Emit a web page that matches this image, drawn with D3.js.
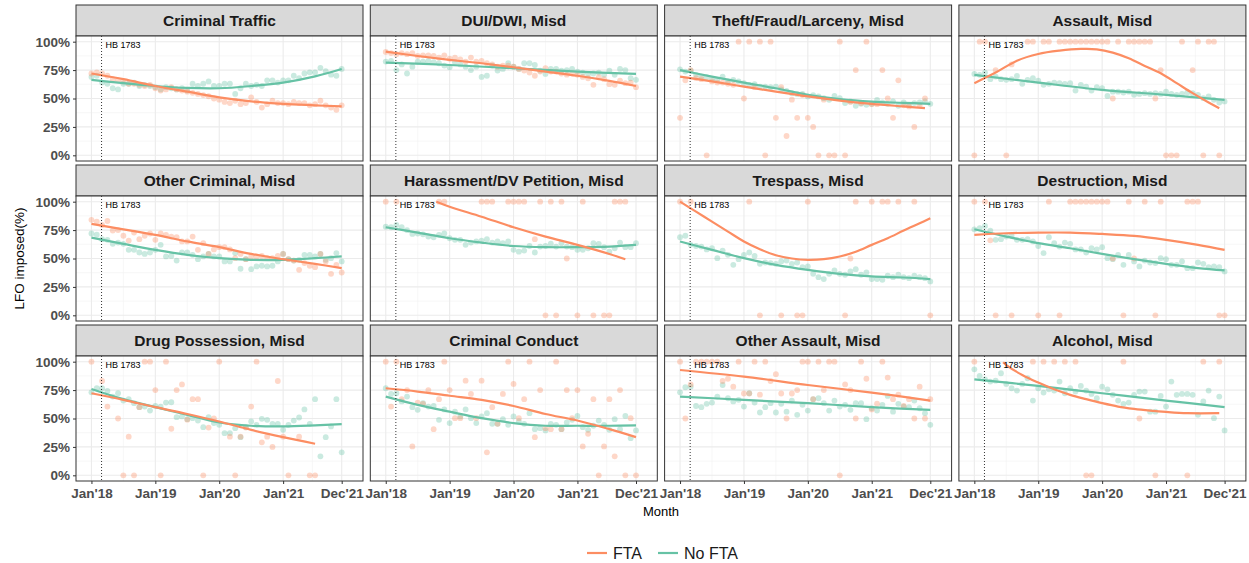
<!DOCTYPE html>
<html>
<head>
<meta charset="utf-8">
<script src="https://cdn.jsdelivr.net/npm/d3@7"></script>
<style>
  body { margin: 0; background: #fff; }
  svg { display: block; font-family: "Liberation Sans", Arial, sans-serif; }
</style>
</head>
<body>
<svg id="chart" width="1249" height="563"></svg>
<script>
// facet titles, in reading order
const titles = ["Criminal Traffic", "DUI/DWI, Misd", "Theft/Fraud/Larceny, Misd", "Assault, Misd",
    "Other Criminal, Misd", "Harassment/DV Petition, Misd", "Trespass, Misd", "Destruction, Misd",
    "Drug Possession, Misd", "Criminal Conduct", "Other Assault, Misd", "Alcohol, Misd"];

// x ticks (month index from Jan 2018) and their labels
const xTicks = [0, 12, 24, 36, 47];
const xTickLabels = ["Jan'18", "Jan'19", "Jan'20", "Jan'21", "Dec'21"];
const yTicks = [0, 25, 50, 75, 100];
const hbMonth = 1.9;   // HB 1783 marker
const seriesNames = ["FTA", "No FTA"];

// monthly LFO imposed (%), Jan'18 .. Dec'21, null = no cases that month
const ftaTraffic = [72,73,72,70,67,66,65,63,63,62,61,62,59,57,58,60,58,57,56,55,54,53,52,50,49,47,46,48,45,46,51,47,42,45,48,46,46,45,47,46,46,44,45,48,44,42,40,44];
const noFtaTraffic = [69,70,64,63,59,58,63,63,64,61,62,61,60,58,60,59,58,59,57,63,61,63,65,61,61,63,63,54,59,63,61,62,61,66,66,64,66,66,70,68,72,73,73,77,74,71,70,76];

const ftaDui = [91,90,89,90,89,90,87.5,88,88,87.5,86,88,85,86,84.5,82.5,86,82.5,83,81,80,78,79,79,78,76,74.6,72.8,70,73.7,76.6,73.7,73.7,72,71,72,70.8,69,67.8,62,68.7,67,62.6,62,65.8,63.5,64,60];
const noFtaDui = [82.5,83,75,80,72,78,82.5,82.5,83,82,81,79,77.5,82,80,78,75,78,69,70,79,74.6,76,81,78,76,81,81,79.5,74.6,71.6,76,76,74.6,75,76,73.7,72.8,71.6,72,72.8,70.8,74.6,70.8,76,75,67.8,66.4];

const ftaTheft = [33,66,75,68,67,0,65,64,64,63,62,100,50,100,60,100,0,100,33,60,17,49,33,53,33,25,0,49,0,0,100,0,47,75,46,100,45,45,75,50,33,66,44,43,25,44,50,null];
const noFtaTheft = [75.7,73.7,74.6,70.8,69.3,68.7,67,66.4,69.3,65,66.4,65,63.5,62,62.6,60.5,60.5,60,60.5,58,56.7,54.7,54,54,51.8,53,51.8,50.3,48.8,52.3,50.3,46,47.4,43.6,45.3,44.4,45.3,48.8,46.5,45.3,47.4,43.6,46.5,44.4,46,46.5,47.4,45.3];

const ftaAssault = [0,100,100,null,75,null,0,80,null,null,100,100,null,100,100,null,100,100,100,100,100,100,100,100,100,100,50,100,null,100,100,100,100,100,50,75,0,0,0,100,null,75,100,0,100,100,0,null];
const noFtaAssault = [71.6,70.8,72.8,67,69.3,67,66.4,67,69.9,62.9,66.4,67.8,65.8,62,62.9,64,63.5,62.9,63.5,57,62,60.5,57,60,59,52.3,56,56,55.3,56,53.2,54,54.7,54,54.7,54,56,54,53.2,54,55.3,54.7,53.2,50.3,51.8,48.8,46.5,47.4];

const ftaOtherCrim = [84,82.5,79.5,83,74.6,75,70,65.8,72.8,67,70,72,66.4,72,70.8,69.3,68.7,65,65,69.3,57.6,63.5,54,58,60,60,58,50.3,54,49.4,51.8,51.8,52.3,50.3,50.3,52.3,54,49.4,48.2,40,46,43.6,42.4,54,47.4,36.5,44.4,37.7];
const noFtaOtherCrim = [72,71,67,66.4,62.9,64,62.9,57.6,57.6,55.3,54,55.3,57.6,62,51.8,52.3,48.2,55.3,55.3,53.2,49.4,51.8,54,51.8,51.8,47.4,47.4,54.7,41,49.4,40.6,43,43.6,43,43.6,47.4,54,49.4,48.2,48.8,53.2,53.2,51.8,54,48.8,50.3,54.7,47.4];

const ftaHarass = [100,null,100,null,null,null,null,null,null,null,100,100,null,null,null,null,null,null,100,100,100,null,null,100,100,100,100,null,67,100,0,100,0,100,50,null,0,100,null,0,null,0,0,100,100,100,null,null];
const noFtaHarass = [78,77.5,79.5,77.5,75,71.6,72,71.3,69.3,68.7,70.8,72,67.8,66.4,66.4,62,64,65,65.8,67,64,65,63.5,65,57.6,56,57,61,55.3,60.5,61,63,60.5,63.5,60.5,60,57.6,57.6,59,63.5,62.9,60,56,59,64,60,60,63.5];

const ftaTrespass = [100,null,100,null,null,null,null,null,null,null,null,null,null,100,null,0,null,null,null,0,null,null,0,0,100,null,null,null,null,null,null,0,50,100,null,null,100,null,100,100,null,100,null,null,100,null,null,0];
const noFtaTrespass = [68.7,70,62,61,60.5,58,59,50.3,57,53.2,44.4,49.4,53.2,55.3,52.3,45.3,46.5,46,45.3,47.4,48.2,45.3,46.5,42.4,43,36.5,33.6,31.9,36.5,39.5,36.5,35.7,38.6,40.6,35.7,37.7,31.9,31.9,31.3,34.8,33.6,35.7,33.6,32.7,34.8,33.6,32.7,29.8];

const ftaDestruct = [100,null,100,66,0,null,null,0,null,null,null,null,0,null,100,null,0,null,100,100,100,100,100,100,100,100,50,null,0,100,50,null,100,null,0,100,null,null,null,null,100,100,100,null,null,null,0,0];
const noFtaDestruct = [75.7,76.6,78.7,74.6,66.4,67,69.3,70,66.4,66.4,67,65,61,54.7,68.7,63.5,60.5,64,62.9,58,58,55.3,59,58,60,50.3,49.4,53.2,44.4,53.2,47.4,43,48.2,46.5,46,50.3,49.4,44.4,44.4,47.4,41.5,41.5,46.5,45.3,42.4,43,42.4,38.6];

const ftaDrug = [100,null,83,60.5,null,50,0,34,0,60,100,100,75,0,100,41,75,80,49,67,67,0,42,50,100,null,34,0,34,42,60.5,100,29,34,25,83,34,0,null,34,null,0,0,null,null,null,null,null];
const noFtaDrug = [73,76.6,76.6,74.3,69.3,72.2,65.8,67,63.5,60,60.5,57,61,60.5,64,64.3,51.2,51.8,49.4,50.3,48.2,42.4,51.2,46,44.4,37.1,37.1,41.5,33.6,42.4,47.4,44.4,49.7,48.8,45.3,45.3,40,44.4,48.2,50.9,58,45.3,67,16.7,33.6,43,67,20.2];

const ftaConduct = [100,60.5,100,67,75,25.4,64,62.9,75,40.6,67,100,75,50.3,50.3,83.3,71.6,50.3,83.3,20.2,60,45.3,71.6,100,80.4,50.3,67,100,33.6,75,41.5,40.6,100,40.6,75,50.3,75,25.4,36.5,67,0,25.4,67,16.7,75,0,50.3,0];
const noFtaConduct = [76.6,71.6,72.2,65,69.3,60,57.6,63.5,60.5,61,48.8,58,46,56,51.8,58,50.3,46,51.8,54.7,45.3,45.3,49.4,44.4,51.8,47.4,45.3,54.7,40.6,41.5,39.5,45.3,44.4,40.6,46.5,48.8,52.3,42.4,40,43.6,48.2,44.4,40,49.4,40.6,52.3,32.7,39.5];

const ftaOtherAssault = [100,50,80,100,100,100,100,100,83,85,78,100,72,72,100,71,100,83,89,72,50,72,75,100,100,67,100,75,100,100,0,80,75,50,100,85,58,63,100,86,67,71,61,67,50,78,50,67];
const noFtaOtherAssault = [73,77.5,78,61,60,62.9,64,69.3,79.5,67.8,65,66.4,60.5,72.2,64,55.3,60,63.5,55.3,62.9,56,65.8,53.2,62,57,67,67.8,63.5,57,65.8,60.5,62,57.6,63.5,63.5,49.4,59,57,62,69.9,56,62.9,60.5,60,65.8,59,54.7,44.4];

const ftaAlcohol = [100,null,null,null,null,null,null,null,null,null,null,100,null,100,null,100,null,100,null,100,null,0,0,null,null,null,null,null,100,null,null,50,null,null,0,null,null,null,null,null,0,null,null,100,null,null,100,null];
const noFtaAlcohol = [93.3,87.4,84.5,82.5,83.3,89.8,80.4,76.6,74.6,80.4,85.4,65.8,76.6,72.8,75.7,74.6,82.5,72.2,76.6,73.7,78.7,74.6,71.6,67.8,78,75.7,70.8,65.8,62.9,64,70.8,73.7,73.7,56,56,69.9,60.5,82.5,70.8,71.6,71.6,70.8,53.2,65,74.6,50.3,69.3,39.5];

// smoothed trend: [month, %]
const fitFtaTraffic = [[0,72],[6,67],[12,61],[18,56],[24,51],[30,47.5],[36,45.3],[42,44],[47,43]];
const fitNoFtaTraffic = [[0,66.4],[6,63.5],[12,61],[18,59.3],[24,59],[30,61],[36,64],[42,69.5],[47,76]];
const fitFtaDui = [[0,91.2],[6,87.4],[12,84],[18,81],[24,77.5],[30,73.7],[36,70],[42,65.5],[47,61]];
const fitNoFtaDui = [[0,81.6],[12,79.5],[24,76.6],[36,73.7],[47,71.6]];
const fitFtaTheft = [[0,69.3],[6,65],[12,60.5],[18,56],[24,51.8],[30,48.2],[36,45.3],[42,43],[46,41.5]];
const fitNoFtaTheft = [[0,75],[6,69.3],[12,64],[18,59],[24,53.2],[30,49.4],[36,47.2],[42,46.2],[47,45.3]];
const fitFtaAssault = [[0,63.5],[4,72.8],[8,83.3],[12,89.2],[16,92.1],[20,93.6],[23,93.3],[26,90.4],[29,85.4],[32,78.7],[35,72.2],[38,63.5],[41,54.7],[44,46.5],[46,41.5]];
const fitNoFtaAssault = [[0,70.8],[12,64],[24,57.6],[36,53.2],[47,48.8]];
const fitFtaOtherCrim = [[0,80.4],[6,75.7],[12,70.8],[18,65],[24,60],[30,54],[36,49.4],[42,45.3],[47,41.5]];
const fitNoFtaOtherCrim = [[0,68.4],[6,62.9],[12,57.6],[18,53.2],[24,50.3],[30,48.8],[36,48.8],[42,50.3],[47,51.8]];
const fitFtaHarass = [[9.5,100],[12,95.6],[18,86.8],[24,77.5],[30,69.3],[36,62],[42,54],[45,49.4]];
const fitNoFtaHarass = [[0,77.5],[6,72.8],[12,67.8],[18,64],[24,61],[30,60],[36,60],[42,60.5],[47,62]];
const fitFtaTrespass = [[0,100],[3,91.2],[6,82.5],[9,73.7],[12,65],[15,58.2],[18,52.9],[21,50],[24,48.8],[27,49.4],[30,51.8],[33,56],[36,62],[39,67.8],[42,74.6],[45,81],[47,85.4]];
const fitNoFtaTrespass = [[0,65],[6,57.6],[12,50.3],[18,44.4],[24,40],[30,36.5],[36,34.2],[42,33.3],[47,31.9]];
const fitFtaDestruct = [[0,70.8],[6,72.2],[12,72.8],[18,72.8],[24,71.6],[30,69.9],[36,66.4],[42,62],[47,57.6]];
const fitNoFtaDestruct = [[0,75.7],[6,69.3],[12,63.5],[18,59],[24,54],[30,49.4],[36,45.3],[42,41.5],[47,39.5]];
const fitFtaDrug = [[0,72.2],[6,66.4],[12,60],[18,54],[24,47.4],[30,40],[36,33.6],[42,27.8]];
const fitNoFtaDrug = [[0,76],[6,67],[12,60],[18,53.2],[24,46.5],[30,43.6],[36,43],[42,43.9],[47,45]];
const fitFtaConduct = [[0,76.6],[6,73.7],[12,70],[18,66.4],[24,61],[30,54],[36,48.2],[42,40.6],[47,33.6]];
const fitNoFtaConduct = [[0,69.3],[6,62],[12,56],[18,50.3],[24,46],[30,43.6],[36,43.6],[42,43.6],[47,43.9]];
const fitFtaOtherAssault = [[0,92.7],[12,86.8],[24,79.5],[36,72.8],[47,65.8]];
const fitNoFtaOtherAssault = [[0,69.3],[12,66.4],[24,63.5],[36,60],[47,57.6]];
const fitFtaAlcohol = [[5.4,99.5],[6,97],[9,88.3],[12,81.6],[15,75.7],[18,70.8],[21,67],[24,63.5],[27,60.5],[30,58.5],[33,57],[36,55.8],[40,54.7],[46,54.7]];
const fitNoFtaAlcohol = [[0,84.5],[12,78.7],[24,72.2],[36,65.8],[47,60]];

const facets = [
    [ftaTraffic, noFtaTraffic, fitFtaTraffic, fitNoFtaTraffic],
    [ftaDui, noFtaDui, fitFtaDui, fitNoFtaDui],
    [ftaTheft, noFtaTheft, fitFtaTheft, fitNoFtaTheft],
    [ftaAssault, noFtaAssault, fitFtaAssault, fitNoFtaAssault],
    [ftaOtherCrim, noFtaOtherCrim, fitFtaOtherCrim, fitNoFtaOtherCrim],
    [ftaHarass, noFtaHarass, fitFtaHarass, fitNoFtaHarass],
    [ftaTrespass, noFtaTrespass, fitFtaTrespass, fitNoFtaTrespass],
    [ftaDestruct, noFtaDestruct, fitFtaDestruct, fitNoFtaDestruct],
    [ftaDrug, noFtaDrug, fitFtaDrug, fitNoFtaDrug],
    [ftaConduct, noFtaConduct, fitFtaConduct, fitNoFtaConduct],
    [ftaOtherAssault, noFtaOtherAssault, fitFtaOtherAssault, fitNoFtaOtherAssault],
    [ftaAlcohol, noFtaAlcohol, fitFtaAlcohol, fitNoFtaAlcohol]
].map((d, i) => ({ title: titles[i], fta: d[0], noFta: d[1], fitFta: d[2], fitNoFta: d[3] }));

const colors = { fta: "#fc8d62", noFta: "#66c2a5" };

const svg = d3.select("#chart");
const panelW = 287, panelH = 125, stripH = 31;
const left0 = 76, top0 = 36, stepX = 294.3, stepY = 160;

const x = d3.scaleLinear().domain([-2.9, 51.0]).range([0, panelW]);
const y = d3.scaleLinear().domain([-5, 105]).range([panelH, 0]);

const line = d3.line()
    .x(d => x(d[0]))
    .y(d => y(d[1]))
    .curve(d3.curveCatmullRom.alpha(0.5));

svg.append("defs").append("clipPath").attr("id", "panel-clip")
    .append("rect").attr("width", panelW).attr("height", panelH);

const xMinor = [6, 18, 30, 41.5];
const yMinor = [12.5, 37.5, 62.5, 87.5];
const axisFont = "Liberation Sans, Arial, sans-serif";

facets.forEach((f, i) => {
    const col = i % 4, row = Math.floor(i / 4);
    const px = left0 + col * stepX, py = top0 + row * stepY;

    // strip
    const strip = svg.append("g").attr("transform", `translate(${px},${py - stripH})`);
    strip.append("rect")
        .attr("width", panelW).attr("height", stripH)
        .attr("fill", "#d9d9d9").attr("stroke", "#333").attr("stroke-width", 1);
    strip.append("text")
        .attr("x", panelW / 2).attr("y", stripH / 2 + 5.5)
        .attr("text-anchor", "middle")
        .attr("font-size", 15.5).attr("font-weight", "bold").attr("fill", "#1a1a1a")
        .text(f.title);

    const g = svg.append("g").attr("transform", `translate(${px},${py})`);
    g.append("rect").attr("width", panelW).attr("height", panelH).attr("fill", "#fff");

    // grid
    g.selectAll(".ymin").data(yMinor).join("line")
        .attr("x1", 0).attr("x2", panelW).attr("y1", d => y(d)).attr("y2", d => y(d))
        .attr("stroke", "#f2f2f2").attr("stroke-width", 0.6);
    g.selectAll(".xmin").data(xMinor).join("line")
        .attr("y1", 0).attr("y2", panelH).attr("x1", d => x(d)).attr("x2", d => x(d))
        .attr("stroke", "#f2f2f2").attr("stroke-width", 0.6);
    g.selectAll(".ymaj").data(yTicks).join("line")
        .attr("x1", 0).attr("x2", panelW).attr("y1", d => y(d)).attr("y2", d => y(d))
        .attr("stroke", "#ebebeb").attr("stroke-width", 1.1);
    g.selectAll(".xmaj").data(xTicks).join("line")
        .attr("y1", 0).attr("y2", panelH).attr("x1", d => x(d)).attr("x2", d => x(d))
        .attr("stroke", "#ebebeb").attr("stroke-width", 1.1);

    const body = g.append("g").attr("clip-path", "url(#panel-clip)");

    // points
    const pts = (vals, color) => body.append("g").selectAll("circle")
        .data(vals.map((v, m) => [m, v]).filter(d => d[1] !== null))
        .join("circle")
        .attr("cx", d => x(d[0])).attr("cy", d => y(d[1]))
        .attr("r", 2.9)
        .attr("fill", color).attr("fill-opacity", 0.35);
    pts(f.noFta, colors.noFta);
    pts(f.fta, colors.fta);

    // smooth lines
    body.append("path").datum(f.fitNoFta).attr("d", line)
        .attr("fill", "none").attr("stroke", colors.noFta).attr("stroke-width", 2.2);
    body.append("path").datum(f.fitFta).attr("d", line)
        .attr("fill", "none").attr("stroke", colors.fta).attr("stroke-width", 2.2);

    // policy marker
    g.append("line")
        .attr("x1", x(hbMonth)).attr("x2", x(hbMonth)).attr("y1", 0).attr("y2", panelH)
        .attr("stroke", "#000").attr("stroke-width", 0.8).attr("stroke-dasharray", "1,2");
    g.append("text")
        .attr("x", x(hbMonth) + 4).attr("y", 11.5)
        .attr("font-size", 9).attr("fill", "#000")
        .text("HB 1783");

    g.append("rect").attr("width", panelW).attr("height", panelH)
        .attr("fill", "none").attr("stroke", "#333").attr("stroke-width", 1);

    if (col === 0) {
        const ay = g.append("g").call(d3.axisLeft(y).tickValues(yTicks).tickFormat(d => d + "%").tickSize(3));
        ay.select(".domain").remove();
        ay.selectAll("line").attr("stroke", "#333");
        ay.selectAll("text").attr("font-size", 13.5).attr("font-weight", "bold")
            .attr("fill", "#4d4d4d").attr("font-family", axisFont);
    }
    if (row === 2) {
        const ax = g.append("g").attr("transform", `translate(0,${panelH})`)
            .call(d3.axisBottom(x).tickValues(xTicks).tickFormat((d, k) => xTickLabels[k]).tickSize(3));
        ax.select(".domain").remove();
        ax.selectAll("line").attr("stroke", "#333");
        ax.selectAll("text").attr("font-size", 13.5).attr("font-weight", "bold")
            .attr("fill", "#4d4d4d").attr("font-family", axisFont).attr("dy", "0.85em");
    }
});

// axis titles
svg.append("text")
    .attr("x", left0 + (3 * stepX + panelW) / 2).attr("y", 516)
    .attr("text-anchor", "middle").attr("font-size", 13).attr("fill", "#000")
    .text("Month");
svg.append("text")
    .attr("transform", `translate(24,${top0 + (2 * stepY + panelH) / 2}) rotate(-90)`)
    .attr("text-anchor", "middle").attr("font-size", 13.5).attr("fill", "#000")
    .text("LFO imposed(%)");

// legend
const legend = svg.append("g").attr("transform", "translate(587,553)");
const legendItems = [
    { name: seriesNames[0], color: colors.fta, dx: 0 },
    { name: seriesNames[1], color: colors.noFta, dx: 71 }
];
legendItems.forEach(d => {
    const lg = legend.append("g").attr("transform", `translate(${d.dx},0)`);
    lg.append("line").attr("x1", 0).attr("x2", 20).attr("y1", 0).attr("y2", 0)
        .attr("stroke", d.color).attr("stroke-width", 2.2);
    lg.append("text").attr("x", 26).attr("y", 5.5).attr("font-size", 16).attr("fill", "#1a1a1a")
        .text(d.name);
});
</script>
</body>
</html>
